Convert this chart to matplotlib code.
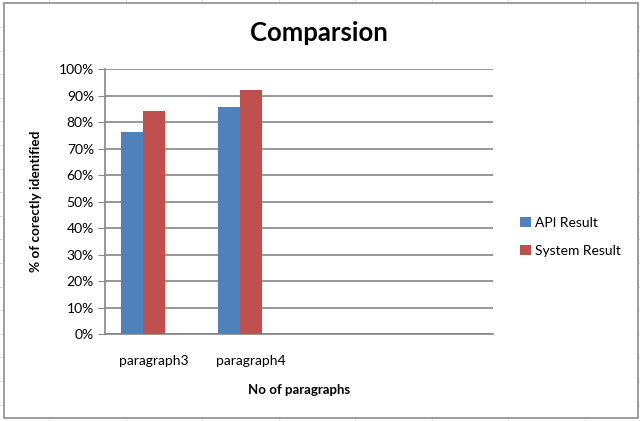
import numpy as np
import matplotlib.pyplot as plt
from matplotlib.lines import Line2D
from matplotlib.patches import Rectangle

categories = ["paragraph3", "paragraph4", "", ""]
api_result = [76.2, 85.9, np.nan, np.nan]
system_result = [84.2, 92.2, np.nan, np.nan]
yticks = np.arange(0, 101, 10)

blue = "#4F81BD"
red = "#C0504D"
grid = "#868686"
font = ["Lato", "DejaVu Sans"]

W, H = 640, 421
fig = plt.figure(figsize=(6.4, 4.21), dpi=100)

# spreadsheet cells behind the chart
for x in np.arange(49, 640, 76.5):
    fig.add_artist(Line2D([x / W, x / W], [0, 1], color="#dfe3ea", lw=0.8, zorder=0))
for y in np.arange(27, 421, 23.6):
    fig.add_artist(Line2D([0, 1], [1 - y / H, 1 - y / H], color="#dfe3ea", lw=0.8, zorder=0))
fig.add_artist(Rectangle((4 / W, 3 / H), 634 / W, 415 / H, facecolor="white",
                         edgecolor="#8c8c8c", lw=1.2, zorder=1))

ax = fig.add_axes([105 / W, 1 - 334.3 / H, 388 / W, 265 / H])
ax.set_zorder(2)
ax.patch.set_alpha(0)

x = np.arange(len(categories))
w = 0.225
ax.bar(x - w, api_result, w, color=blue, label="API Result", zorder=3)
ax.bar(x, system_result, w, color=red, label="System Result", zorder=3)

ax.set_xlim(-0.503, 3.485)
ax.set_ylim(0, 100)
ax.set_yticks(yticks)
ax.set_yticklabels([f"{v}%" for v in yticks], fontsize=10, family=font)
ax.set_xticks(x)
ax.set_xticklabels(categories, fontsize=10, family=font)
ax.tick_params(axis="x", length=0, pad=15)
ax.tick_params(axis="y", length=5, color=grid, pad=3)
ax.yaxis.grid(True, color=grid, lw=1.2)
for s in ["top", "right"]:
    ax.spines[s].set_visible(False)
for s in ["left", "bottom"]:
    ax.spines[s].set_color(grid)
    ax.spines[s].set_linewidth(1.2)

fig.text(319 / W, 1 - 33 / H, "Comparsion", ha="center", va="center",
         fontsize=18.5, fontweight="bold", family=font)
fig.text(299 / W, 1 - 390 / H, "No of paragraphs", ha="center", va="center",
         fontsize=9.5, fontweight="bold", family=font)
fig.text(36 / W, 1 - 201 / H, "% of corectly identified", ha="center", va="center",
         rotation=90, fontsize=9.8, fontweight="bold", family=font)

fig.legend(handles=ax.get_legend_handles_labels()[0], loc="upper left",
           bbox_to_anchor=(507 / W, 1 - 204 / H), frameon=False,
           handlelength=0.8, handleheight=0.8, handletextpad=0.35,
           labelspacing=1.15, prop={"family": font, "size": 10})

fig.savefig("out.png", dpi=100)
